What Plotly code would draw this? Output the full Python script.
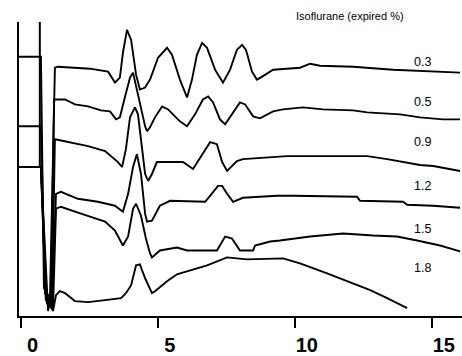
import plotly.graph_objects as go

# Time (ms) and amplitude (arbitrary units) for each isoflurane level
t_03 = [-0.06, 0.74, 0.85, 1.07, 1.25, 1.36, 2.53, 3.19, 3.44, 3.62, 3.73, 3.88, 4.03, 4.21, 4.35, 4.54, 4.72,
        5.01, 5.34, 5.52, 5.81, 6.07, 6.25, 6.43, 6.62, 6.80, 7.09, 7.38, 7.64, 7.89, 8.08, 8.22, 8.44,
        8.62, 8.81, 9.21, 10.19, 10.56, 10.92, 12.13, 13.59, 15.30, 16.03]
a_03 = [261, 261, 28, 18, 250, 251, 249, 246, 235, 240, 265, 288, 278, 243, 228, 230, 238,
        260, 270, 263, 238, 220, 238, 263, 275, 270, 248, 235, 248, 268, 273, 268, 246,
        238, 241, 248, 250, 254, 252, 251, 248, 246, 245]

t_05 = [-0.06, 0.74, 0.89, 1.10, 1.22, 1.62, 1.98, 2.46, 2.93, 3.26, 3.48, 3.62, 3.81, 3.99, 4.10, 4.21, 4.39,
        4.54, 4.61, 4.72, 4.90, 5.16, 5.38, 5.81, 6.07, 6.36, 6.65, 6.84, 7.02, 7.27, 7.46, 7.71, 8.00,
        8.19, 8.48, 8.73, 9.21, 9.57, 10.30, 11.03, 12.13, 12.64, 13.84, 14.57, 15.40, 16.03]
a_05 = [191, 191, 23, 13, 218, 218, 213, 211, 207, 206, 198, 200, 221, 240, 245, 231, 211,
        191, 186, 190, 200, 211, 208, 196, 191, 203, 218, 221, 215, 198, 193, 203, 215,
        213, 201, 199, 206, 208, 210, 208, 207, 205, 203, 200, 198, 198]

t_09 = [-0.06, 0.74, 0.92, 1.14, 1.25, 1.62, 2.46, 3.08, 3.30, 3.55, 3.70, 3.84, 3.99, 4.17, 4.28, 4.39, 4.54,
        4.65, 4.79, 4.97, 5.92, 6.29, 6.65, 6.91, 7.16, 7.35, 7.53, 7.89, 8.11, 9.10, 9.72, 11.65,
        12.64, 13.37, 13.95, 14.57, 15.05, 15.66, 16.03]
a_09 = [150, 150, 18, 10, 178, 176, 171, 166, 161, 155, 150, 168, 200, 210, 203, 178, 143,
        136, 143, 155, 155, 148, 163, 175, 173, 155, 146, 156, 158, 160, 161, 161,
        161, 158, 155, 152, 151, 148, 146]

t_12 = [-0.06, 0.74, 0.92, 1.14, 1.29, 1.47, 2.09, 2.82, 3.44, 3.73, 3.92, 4.10, 4.24, 4.39, 4.54, 4.61, 4.79,
        5.08, 5.45, 6.73, 6.91, 7.20, 7.35, 7.53, 7.75, 8.11, 9.35, 9.94, 12.27, 12.38, 13.95, 14.10,
        15.05, 16.03]
a_12 = [150, 150, 16, 8, 123, 125, 118, 115, 111, 105, 123, 150, 163, 143, 103, 95, 96,
        111, 116, 115, 121, 131, 131, 123, 115, 119, 121, 121, 120, 116, 115, 112,
        111, 109]

t_15 = [-0.06, 0.74, 0.96, 1.18, 1.29, 1.47, 2.20, 3.08, 3.44, 3.73, 3.92, 4.10, 4.21, 4.39, 4.57, 4.72, 4.79,
        5.08, 5.70, 6.07, 7.16, 7.46, 7.71, 8.00, 8.48, 8.55, 9.10, 9.46, 10.56, 11.76, 12.86, 13.73,
        14.46, 15.30, 16.03]
a_15 = [150, 150, 13, 6, 108, 110, 103, 95, 86, 71, 80, 108, 113, 101, 78, 63, 59,
        66, 69, 66, 66, 80, 78, 66, 66, 71, 75, 76, 80, 83, 81, 80,
        76, 71, 65]

t_18 = [-0.06, 0.74, 1.00, 1.07, 1.18, 1.29, 1.43, 1.62, 1.98, 2.46, 3.08, 3.66, 3.84, 4.03, 4.21, 4.35, 4.54,
        4.65, 4.79, 4.90, 5.34, 5.70, 6.18, 6.80, 7.53, 8.26, 9.57, 10.19, 11.18, 11.91, 12.75, 13.37,
        14.10]
a_18 = [150, 150, 5, 18, 5, 21, 25, 23, 15, 14, 16, 18, 23, 31, 51, 52, 38,
        31, 23, 25, 35, 42, 46, 51, 59, 57, 58, 53, 43, 35, 26, 18,
        8]

# Calibration marker (right edge of the pre-stimulus box)
cal_t = [0.70, 0.70]
cal_a = [296, 150]

levels = ["0.3", "0.5", "0.9", "1.2", "1.5", "1.8"]
label_amp = [256, 215, 175, 131, 88, 48]
label_t = 14.65

x_ticks = [0, 5, 10, 15]
title_text = "Isoflurane (expired %)"

series = [(t_03, a_03), (t_05, a_05), (t_09, a_09), (t_12, a_12), (t_15, a_15), (t_18, a_18)]

fig = go.Figure()
fig.add_trace(go.Scatter(x=cal_t, y=cal_a, mode="lines",
                         line=dict(color="black", width=2), showlegend=False))
for (t, a), lev in zip(series, levels):
    fig.add_trace(go.Scatter(x=t, y=a, mode="lines", name=lev,
                             line=dict(color="black", width=1.9), showlegend=False))

for lev, ya in zip(levels, label_amp):
    fig.add_annotation(x=label_t, y=ya, text=lev, showarrow=False,
                       font=dict(family="Liberation Sans, Arial, sans-serif", size=12.5, color="black"))

fig.add_annotation(x=1.0, xref="paper", y=1.0, yref="paper", xanchor="right", yanchor="middle",
                   xshift=-56, yshift=6,
                   text=title_text, showarrow=False,
                   font=dict(family="Liberation Sans, Arial, sans-serif", size=11, color="black"))

fig.update_layout(
    width=462, height=356,
    margin=dict(l=19, r=0, t=22, b=38),
    plot_bgcolor="white", paper_bgcolor="white",
    xaxis=dict(range=[-0.06, 16.1], tickvals=x_ticks, ticktext=[str(v) for v in x_ticks],
               showgrid=False, zeroline=False, showline=True, linecolor="black", linewidth=2,
               ticks="outside", ticklen=10, tickwidth=1.5, tickcolor="black",
               ticklabelshift=12,
               tickfont=dict(family="Liberation Sans, Arial, sans-serif", size=20, color="black",
                             weight="bold")),
    yaxis=dict(range=[0, 296], showgrid=False, zeroline=False, showline=True,
               linecolor="black", linewidth=1.5, showticklabels=False, ticks=""),
)

fig.write_html("out.html")
